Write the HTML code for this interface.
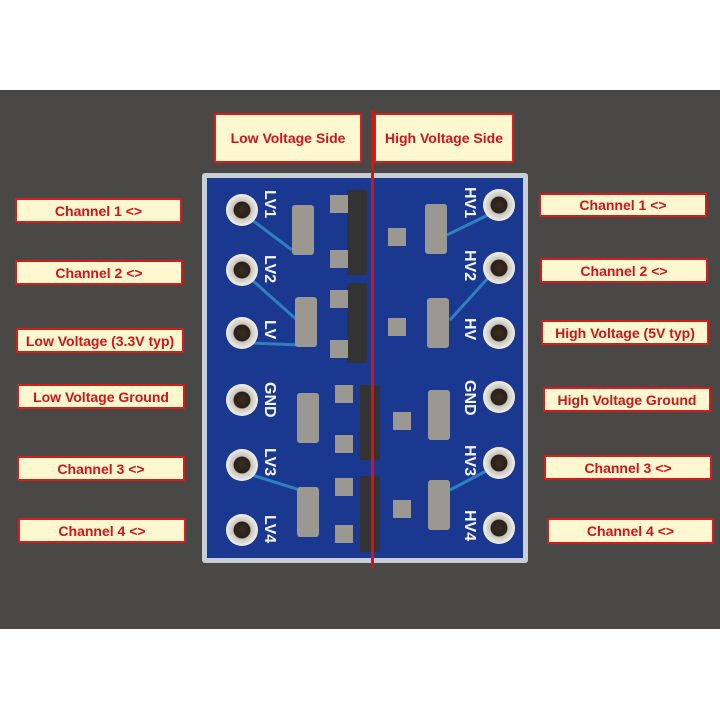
<!DOCTYPE html>
<html><head><meta charset="utf-8"><style>
body{margin:0;width:720px;height:720px;background:#fff;position:relative;overflow:hidden;font-family:"Liberation Sans",sans-serif}
.photo{position:absolute;left:0;top:90px;width:720px;height:539px;background:#4a4846}
.l{position:absolute;box-sizing:border-box;background:#fdf8cf;border:2px solid #d81c1c;color:#d0141c;font-weight:bold;font-size:14px;display:flex;align-items:center;justify-content:center;white-space:nowrap}
</style></head><body>
<div class="photo"></div>
<svg style="position:absolute;left:0;top:0" width="720" height="720">
<defs><radialGradient id="g" cx="50%" cy="50%" r="50%"><stop offset="0" stop-color="#3a2e22"/><stop offset="0.5" stop-color="#2a2018"/><stop offset="0.56" stop-color="#c8c4bc"/><stop offset="1" stop-color="#f2f0ea"/></radialGradient></defs>
<rect x="202" y="173" width="326" height="390" rx="3" fill="#c8ced4"/>
<rect x="207" y="178" width="316" height="380" fill="#1a3890"/>
<g stroke="#2f7fc0" stroke-width="3" fill="none">
<path d="M252 220 L292 250"/><path d="M252 280 L297 320"/><path d="M252 343 L300 345"/><path d="M252 475 L300 490"/>
<path d="M488 215 L447 235"/><path d="M488 278 L450 320"/><path d="M488 470 L450 490"/>
</g>
<g fill="url(#g)">
<circle cx="242" cy="210" r="16"/><circle cx="242" cy="270" r="16"/><circle cx="242" cy="333" r="16"/><circle cx="242" cy="400" r="16"/><circle cx="242" cy="465" r="16"/><circle cx="242" cy="530" r="16"/>
<circle cx="499" cy="205" r="16"/><circle cx="499" cy="268" r="16"/><circle cx="499" cy="333" r="16"/><circle cx="499" cy="397" r="16"/><circle cx="499" cy="463" r="16"/><circle cx="499" cy="528" r="16"/>
</g>
<g fill="#333">
<rect x="347" y="190" width="20" height="85"/><rect x="347" y="283" width="20" height="80"/><rect x="360" y="385" width="20" height="75"/><rect x="360" y="476" width="20" height="76"/>
</g>
<g fill="#9a9890">
<rect x="292" y="205" width="22" height="50" rx="3"/><rect x="295" y="297" width="22" height="50" rx="3"/><rect x="297" y="393" width="22" height="50" rx="3"/><rect x="297" y="487" width="22" height="50" rx="3"/>
<rect x="425" y="204" width="22" height="50" rx="3"/><rect x="427" y="298" width="22" height="50" rx="3"/><rect x="428" y="390" width="22" height="50" rx="3"/><rect x="428" y="480" width="22" height="50" rx="3"/>
<rect x="330" y="195" width="18" height="18"/><rect x="330" y="250" width="18" height="18"/><rect x="330" y="290" width="18" height="18"/><rect x="330" y="340" width="18" height="18"/>
<rect x="335" y="385" width="18" height="18"/><rect x="335" y="435" width="18" height="18"/><rect x="335" y="478" width="18" height="18"/><rect x="335" y="525" width="18" height="18"/>
<rect x="388" y="228" width="18" height="18"/><rect x="388" y="318" width="18" height="18"/><rect x="393" y="412" width="18" height="18"/><rect x="393" y="500" width="18" height="18"/>
</g>
<g fill="#f4f4f4" font-weight="bold" font-size="16">
<text transform="translate(265,190) rotate(90)">LV1</text><text transform="translate(265,255) rotate(90)">LV2</text><text transform="translate(265,320) rotate(90)">LV</text><text transform="translate(265,382) rotate(90)">GND</text><text transform="translate(265,448) rotate(90)">LV3</text><text transform="translate(265,515) rotate(90)">LV4</text>
<text transform="translate(465,187) rotate(90)">HV1</text><text transform="translate(465,250) rotate(90)">HV2</text><text transform="translate(465,318) rotate(90)">HV</text><text transform="translate(465,380) rotate(90)">GND</text><text transform="translate(465,445) rotate(90)">HV3</text><text transform="translate(465,510) rotate(90)">HV4</text>
</g>
<rect x="371" y="110" width="3" height="458" fill="#e01010"/>
</svg>
<div class="l" style="left:214px;top:113px;width:148px;height:50px">Low Voltage Side</div>
<div class="l" style="left:374px;top:113px;width:140px;height:50px">High Voltage Side</div>
<div class="l" style="left:15px;top:198px;width:167px;height:25px">Channel 1 &lt;&gt;</div>
<div class="l" style="left:15px;top:260px;width:168px;height:25px">Channel 2 &lt;&gt;</div>
<div class="l" style="left:16px;top:328px;width:168px;height:25px">Low Voltage (3.3V typ)</div>
<div class="l" style="left:17px;top:384px;width:168px;height:25px">Low Voltage Ground</div>
<div class="l" style="left:17px;top:456px;width:168px;height:25px">Channel 3 &lt;&gt;</div>
<div class="l" style="left:18px;top:518px;width:168px;height:25px">Channel 4 &lt;&gt;</div>
<div class="l" style="left:539px;top:193px;width:168px;height:24px">Channel 1 &lt;&gt;</div>
<div class="l" style="left:540px;top:258px;width:168px;height:25px">Channel 2 &lt;&gt;</div>
<div class="l" style="left:541px;top:320px;width:168px;height:25px">High Voltage (5V typ)</div>
<div class="l" style="left:543px;top:387px;width:168px;height:25px">High Voltage Ground</div>
<div class="l" style="left:544px;top:455px;width:168px;height:25px">Channel 3 &lt;&gt;</div>
<div class="l" style="left:547px;top:518px;width:167px;height:26px">Channel 4 &lt;&gt;</div>
</body></html>
